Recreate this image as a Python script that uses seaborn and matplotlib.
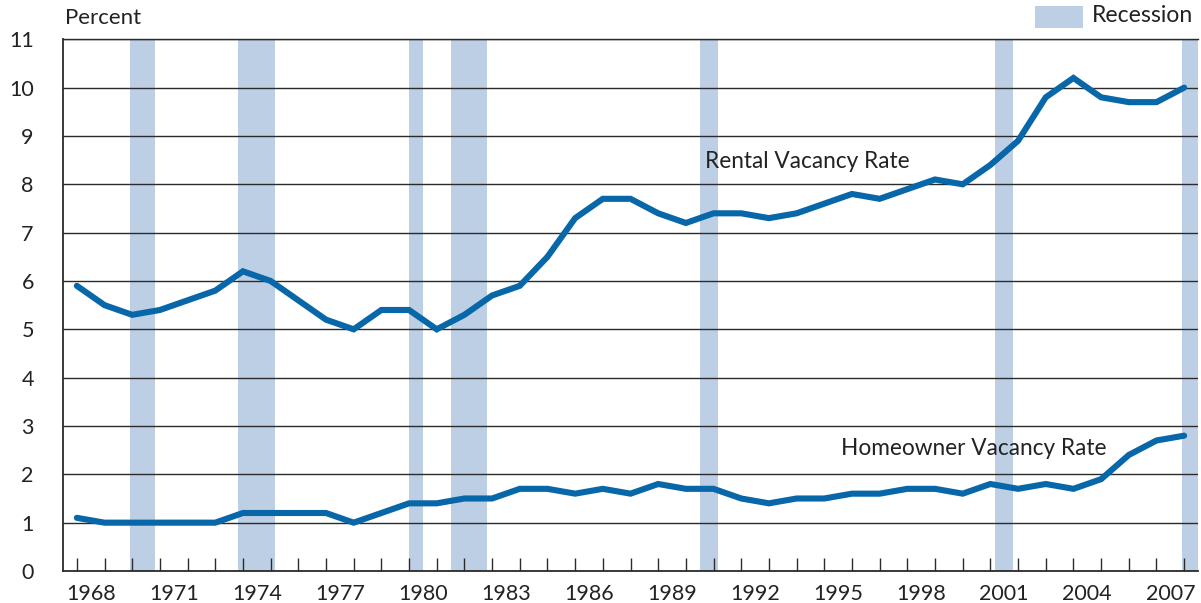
import numpy as np
import pandas as pd
import matplotlib
matplotlib.use("Agg")
import matplotlib.pyplot as plt
import seaborn as sns
from matplotlib.patches import Rectangle

# ---- data ----
years = list(range(1968, 2009))
rental = [5.9, 5.5, 5.3, 5.4, 5.6, 5.8, 6.2, 6.0, 5.6, 5.2, 5.0, 5.4, 5.4, 5.0,
          5.3, 5.7, 5.9, 6.5, 7.3, 7.7, 7.7, 7.4, 7.2, 7.4, 7.4, 7.3, 7.4, 7.6,
          7.8, 7.7, 7.9, 8.1, 8.0, 8.4, 8.9, 9.8, 10.2, 9.8, 9.7, 9.7, 10.0]
homeowner = [1.1, 1.0, 1.0, 1.0, 1.0, 1.0, 1.2, 1.2, 1.2, 1.2, 1.0, 1.2, 1.4, 1.4,
             1.5, 1.5, 1.7, 1.7, 1.6, 1.7, 1.6, 1.8, 1.7, 1.7, 1.5, 1.4, 1.5, 1.5,
             1.6, 1.6, 1.7, 1.7, 1.6, 1.8, 1.7, 1.8, 1.7, 1.9, 2.4, 2.7, 2.8]
rec_start = [1969.92, 1973.83, 1980.0, 1981.5, 1990.5, 2001.17, 2007.92]
rec_end = [1970.83, 1975.17, 1980.5, 1982.83, 1991.17, 2001.83, 2008.5]
label_years = [1968, 1971, 1974, 1977, 1980, 1983, 1986, 1989, 1992, 1995,
               1998, 2001, 2004, 2007]
y_ticks = list(range(0, 12))

df = pd.DataFrame({
    "year": years * 2,
    "value": rental + homeowner,
    "series": ["Rental Vacancy Rate"] * len(years) + ["Homeowner Vacancy Rate"] * len(years),
})

sns.set_style("white")
plt.rcParams["font.family"] = ["Lato", "DejaVu Sans"]

LINE = "#0767a8"
REC = "#bdcfe5"
DARK = "#2b2b2b"
TXT = "#222222"

fig = plt.figure(figsize=(12.01, 6.03), dpi=100)
ax = fig.add_axes([63 / 1201, 1 - 571 / 603, (1198 - 63) / 1201, (571 - 39.3) / 603])

for s, e in zip(rec_start, rec_end):
    ax.axvspan(s, e, color=REC, lw=0, zorder=0.3)

sns.lineplot(data=df, x="year", y="value", units="series", estimator=None,
             color=LINE, lw=4.4, legend=False, ax=ax, zorder=3,
             solid_joinstyle="miter")

ax.set_xlim(1967.5, 2008.5)
ax.set_ylim(0, 11)
ax.set_axisbelow(True)
ax.yaxis.grid(True, color=DARK, lw=1.0)
ax.xaxis.grid(False)

ax.set_yticks(y_ticks)
ax.set_yticklabels([str(v) for v in y_ticks])
ax.tick_params(axis="y", length=0, pad=21, labelsize=15.5, labelcolor=TXT)

ax.set_xticks(years)
ax.set_xticklabels([])
ax.set_xticks([y + 0.5 for y in label_years], minor=True)
ax.set_xticklabels([str(y) for y in label_years], minor=True)
ax.tick_params(axis="x", which="major", direction="in", length=9.5, width=1.0,
               color=DARK, bottom=True)
ax.tick_params(axis="x", which="minor", length=0, pad=9.5, labelsize=15.5,
               labelcolor=TXT)

for side in ["left", "bottom", "top"]:
    ax.spines[side].set_visible(True)
    ax.spines[side].set_color(DARK)
ax.spines["left"].set_linewidth(1.3)
ax.spines["bottom"].set_linewidth(1.3)
ax.spines["top"].set_linewidth(1.0)
ax.spines["right"].set_visible(False)
ax.set_xlabel("")
ax.set_ylabel("")

ax.text(1990.7, 8.48, "Rental Vacancy Rate", fontsize=16.3, color=TXT,
        ha="left", va="center")
ax.text(1995.6, 2.54, "Homeowner Vacancy Rate", fontsize=16.3, color=TXT,
        ha="left", va="center")

fig.text(65 / 1201, 1 - 18 / 603, "Percent", fontsize=16, color=TXT,
         ha="left", va="center")
fig.patches.append(Rectangle((1035 / 1201, 1 - 27.5 / 603), 48 / 1201, 21.5 / 603,
                             transform=fig.transFigure, facecolor=REC, lw=0))
fig.text(1092 / 1201, 1 - 16 / 603, "Recession", fontsize=16.6, color=TXT,
         ha="left", va="center")

fig.savefig("out.png", dpi=100)
